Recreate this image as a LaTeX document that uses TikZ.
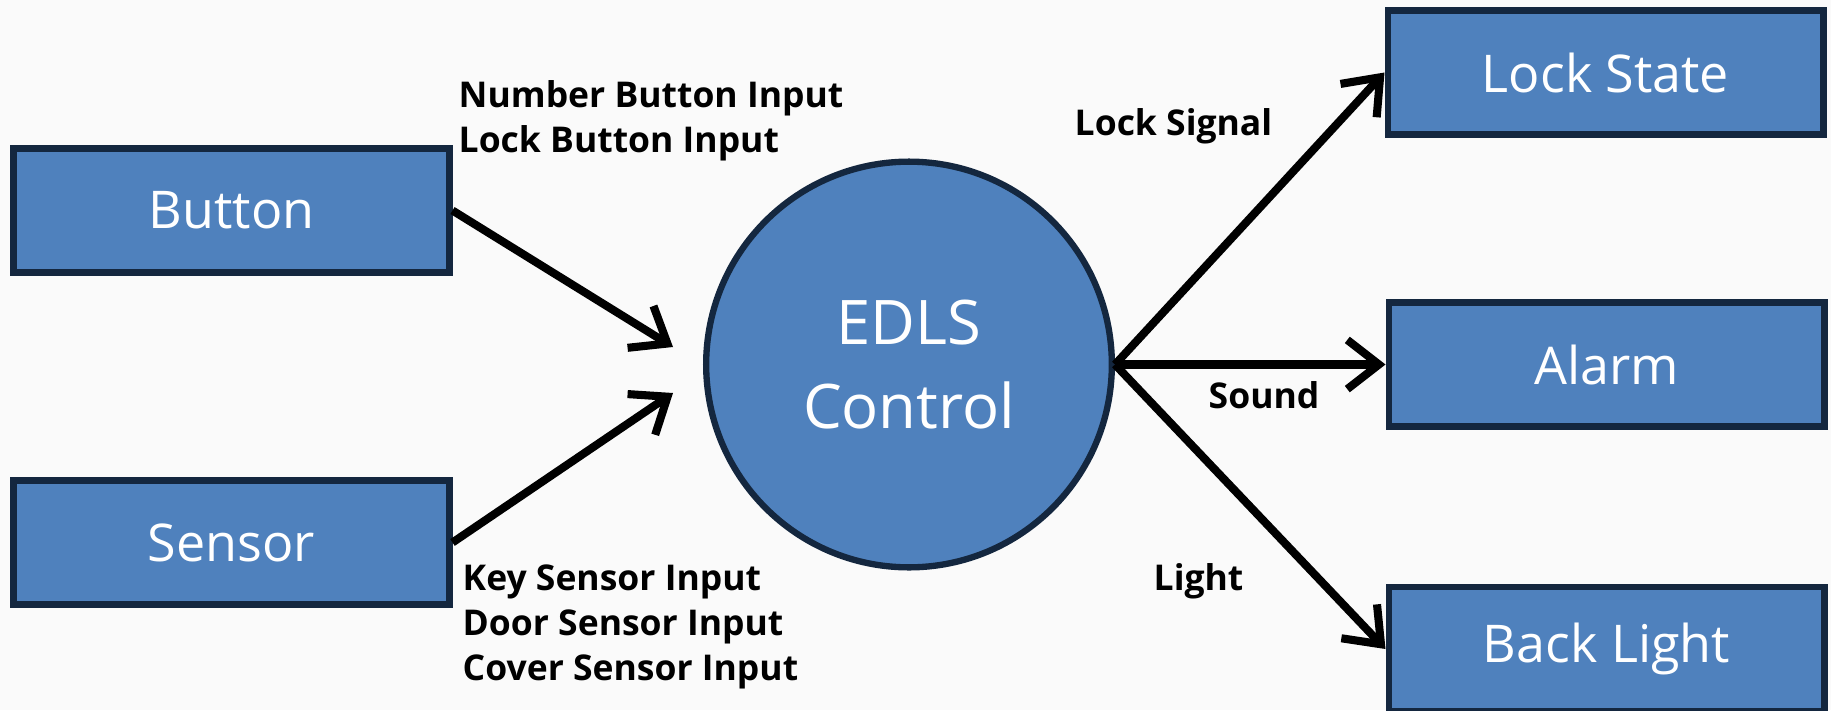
\documentclass[tikz,border=0pt]{standalone}
\usepackage{fontspec}
\setmainfont{Open Sans}
\usepackage{tikz}
\usetikzlibrary{positioning, arrows.meta}
\definecolor{boxblue}{HTML}{4F81BD}
\definecolor{boxline}{HTML}{14273F}
\definecolor{paper}{HTML}{FAFAFA}
\tikzstyle{block} = [rectangle, minimum width=4.357cm, minimum height=1.237cm, text centered, draw=boxline, line width=1.8pt, fill=boxblue, text=white, font=\fontsize{14.8}{18}\selectfont]
\tikzstyle{ctrl} = [circle, minimum size=4.057cm, align=center, draw=boxline, line width=1.8pt, fill=boxblue, text=white, font=\fontsize{17.5}{24}\selectfont]
\tikzstyle{flow} = [line width=2.3pt, -{Straight Barb[length=9pt,width=14pt]}]
\tikzstyle{lbl} = [inner sep=0pt, align=left, font=\bfseries\fontsize{10.1}{12.8}\selectfont]

\begin{document}
\begin{tikzpicture}[node distance=6.775cm]

\fill [paper] (0,0) rectangle (18.31,-7.10);
\useasboundingbox (0,0) rectangle (18.31,-7.10);

\node (control) [ctrl] at (9.09,-3.645) {EDLS\\Control};
\node (button) [block, left of=control, yshift=1.54cm] {Button};
\node (sensor) [block, left of=control, yshift=-1.78cm] {Sensor};
\node (lock) [block, right of=control, xshift=0.19cm, yshift=2.92cm] {Lock State};
\node (alarm) [block, right of=control, xshift=0.2cm] {Alarm};
\node (backlight) [block, right of=control, xshift=0.2cm, yshift=-2.845cm] {Back Light};

\coordinate (btnin) at (6.73,-3.47);
\coordinate (snsin) at (6.73,-3.93);

% multi-line labels sit on their last baseline
\node (btnlabel) [lbl, anchor=base west] at (4.58,-1.52) {Number Button Input\\Lock Button Input};
\node (snslabel) [lbl, anchor=base west] at (4.62,-6.80) {Key Sensor Input\\Door Sensor Input\\Cover Sensor Input};
\node (locklabel) [lbl, anchor=base west] at (10.74,-1.35) {Lock Signal};
\node (soundlabel) [lbl, anchor=base west] at (12.08,-4.08) {Sound};
\node (lightlabel) [lbl, anchor=base west] at (11.53,-5.90) {Light};

\draw [flow] (button.east) -- (btnin);
\draw [flow] (sensor.east) -- (snsin);
\draw [flow] (control.east) -- (lock.west);
\draw [flow] (control.east) -- (alarm.west);
\draw [flow] (control.east) -- (backlight.west);

\end{tikzpicture}
\end{document}
